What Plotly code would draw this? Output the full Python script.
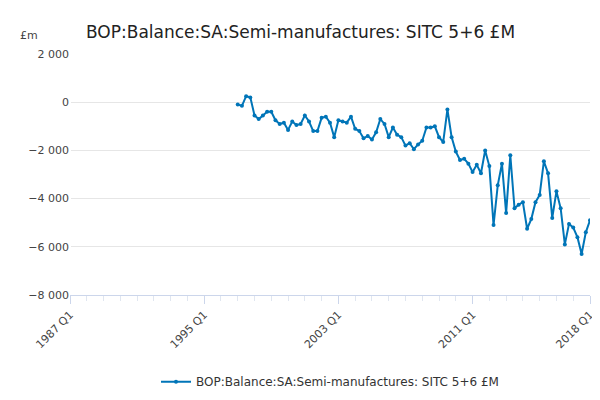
import plotly.graph_objects as go

# quarterly series, 1997 Q1 .. 2018 Q1 (£m)
start_year = 1997
values = [
    -100, -150, 250, 200,
    -550, -700, -550, -400,
    -400, -750, -900, -850,
    -1150, -800, -950, -900,
    -550, -800, -1200, -1200,
    -650, -600, -850, -1450,
    -750, -800, -850, -600,
    -1100, -1200, -1500, -1400,
    -1550, -1250, -700, -900,
    -1450, -1050, -1350, -1450,
    -1800, -1700, -1950, -1750,
    -1600, -1050, -1050, -1000,
    -1450, -1650, -300, -1450,
    -2050, -2400, -2350, -2550,
    -2900, -2600, -2950, -2000,
    -2650, -5100, -3450, -2550,
    -4600, -2200, -4400, -4250,
    -4150, -5250, -4850, -4150,
    -3850, -2450, -2950, -4800,
    -3700, -4400, -5900, -5050,
    -5200, -5600, -6300, -5400,
    -4900,
]
labels = [f"{start_year + i // 4} Q{i % 4 + 1}" for i in range(len(values))]
tick_labels = ["1987 Q1", "1995 Q1", "2003 Q1", "2011 Q1", "2018 Q1"]


def qidx(label):
    y, q = label.split(" Q")
    return (int(y) - 1987) * 4 + int(q) - 1


xs = [qidx(l) for l in labels]

fig = go.Figure()
fig.add_trace(go.Scatter(
    x=xs, y=values, text=labels, mode="lines+markers",
    name="BOP:Balance:SA:Semi-manufactures: SITC 5+6 £M",
    line=dict(color="#0075b8", width=2), marker=dict(size=4, color="#0075b8"),
    hovertemplate="%{text}: %{y}<extra></extra>",
))

fig.update_layout(
    width=600, height=400,
    margin=dict(l=62, r=18, t=46, b=102),
    plot_bgcolor="white", paper_bgcolor="white",
    font=dict(family="DejaVu Sans", color="#444", size=11),
    title=dict(text="BOP:Balance:SA:Semi-manufactures: SITC 5+6 £M",
               x=0.13, xanchor="left", y=0.955, font=dict(size=17, color="#222")),
    showlegend=True,
    legend=dict(orientation="h", x=0.5, xanchor="center", y=-0.3, yanchor="top",
                font=dict(size=12, color="#333")),
    xaxis=dict(range=[0, 124], tickvals=[qidx(t) for t in tick_labels], ticktext=tick_labels,
               tickangle=-45, showgrid=False, showline=True, linecolor="#ccd6eb",
               ticks="outside", tickcolor="#ccd6eb", ticklen=8,
               minor=dict(tickvals=list(range(0, 125, 4)), ticks="outside", ticklen=5,
                          tickcolor="#e0e6f0")),
    yaxis=dict(range=[-8000, 2000], dtick=2000, tickformat=",",
               gridcolor="#e6e6e6", zeroline=False, showline=False),
    separators=". ",
)
fig.add_annotation(text="£m", xref="paper", yref="paper", x=-0.1, y=1.04,
                   xanchor="left", yanchor="bottom", showarrow=False, font=dict(size=11))
fig.add_annotation(text="Source:", xref="paper", yref="paper", x=1.03, y=-0.42,
                   xanchor="right", yanchor="top", showarrow=False,
                   font=dict(size=12, color="#666"))

fig.write_html("out.html")
